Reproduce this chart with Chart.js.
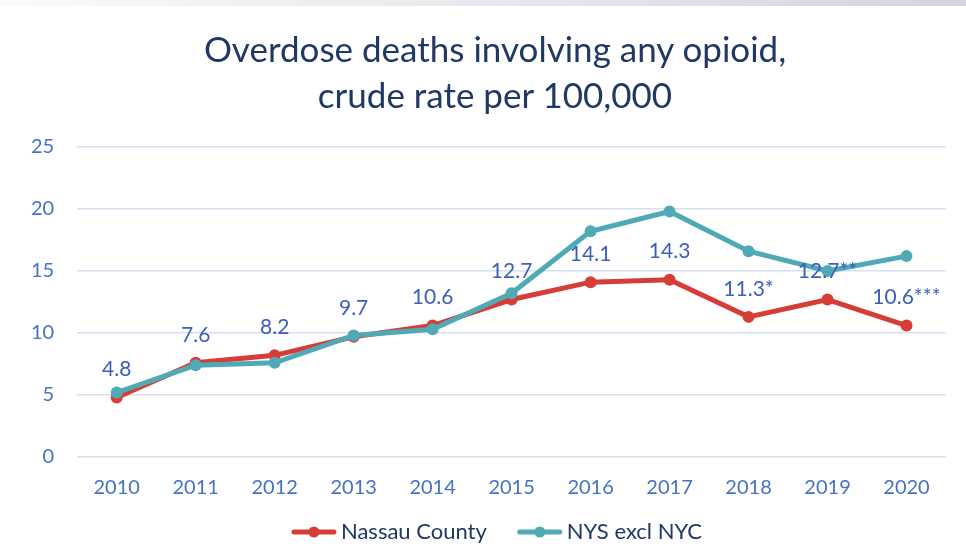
<!DOCTYPE html>
<html>
<head>
<meta charset="utf-8">
<script src="https://cdn.jsdelivr.net/npm/chart.js@4.4.0/dist/chart.umd.min.js"></script>
<style>
  html, body { margin: 0; padding: 0; background: #fff; }
  #wrap { position: relative; width: 966px; height: 546px; overflow: hidden; }
  #topbar { position: absolute; left: 0; top: 0; width: 966px; height: 6px;
    background: linear-gradient(to right, #fbfbfb, #d4d4e0); }
  #title { position: absolute; left: 12px; top: 25px; width: 966px; text-align: center;
    font-family: Lato, sans-serif; font-size: 35px; line-height: 46px; color: #203864; }
  #graph { position: absolute; left: 0; top: 0; }
</style>
</head>
<body>
<div id="wrap">
  <div id="topbar"></div>
  <canvas id="graph" width="966" height="546"></canvas>
  <div id="title">Overdose deaths involving any opioid,<br>crude rate per 100,000</div>
</div>
<script>
var years = ['2010', '2011', '2012', '2013', '2014', '2015', '2016', '2017', '2018', '2019', '2020'];
var nassau = [4.8, 7.6, 8.2, 9.7, 10.6, 12.7, 14.1, 14.3, 11.3, 12.7, 10.6];
var nassauLabels = ['4.8', '7.6', '8.2', '9.7', '10.6', '12.7', '14.1', '14.3', '11.3*', '12.7**', '10.6***'];
var nys = [5.2, 7.4, 7.6, 9.8, 10.3, 13.2, 18.2, 19.8, 16.6, 15.0, 16.2];
var seriesNames = ['Nassau County', 'NYS excl NYC'];

var red = '#d63d37';
var teal = '#4faab5';

// value labels above the Nassau points
var valueLabels = {
  id: 'valueLabels',
  afterDatasetsDraw: function(chart) {
    var ctx = chart.ctx;
    var meta = chart.getDatasetMeta(0);
    ctx.save();
    ctx.font = '21px Lato';
    ctx.fillStyle = '#3c5fb9';
    ctx.textAlign = 'center';
    ctx.textBaseline = 'middle';
    meta.data.forEach(function(pt, i) {
      ctx.fillText(nassauLabels[i], pt.x, pt.y - 28);
    });
    ctx.restore();
  }
};

// legend: line with dot, then name
var lineLegend = {
  id: 'lineLegend',
  afterDraw: function(chart) {
    var ctx = chart.ctx;
    ctx.save();
    ctx.font = '22px Lato';
    var items = chart.data.datasets.map(function(ds) {
      return { ds: ds, w: 44 + 5 + ctx.measureText(ds.label).width };
    });
    var gap = 31;
    var total = items.reduce(function(s, it) { return s + it.w; }, 0) + gap * (items.length - 1);
    var x = 497 - total / 2;
    var y = 532;
    items.forEach(function(it) {
      ctx.strokeStyle = it.ds.borderColor;
      ctx.lineWidth = 5;
      ctx.lineCap = 'round';
      ctx.beginPath();
      ctx.moveTo(x + 2, y);
      ctx.lineTo(x + 42, y);
      ctx.stroke();
      ctx.fillStyle = it.ds.borderColor;
      ctx.beginPath();
      ctx.arc(x + 22, y, 5.5, 0, Math.PI * 2);
      ctx.fill();
      ctx.fillStyle = '#203864';
      ctx.textAlign = 'left';
      ctx.textBaseline = 'middle';
      ctx.fillText(it.ds.label, x + 49, y);
      x += it.w + gap;
    });
    ctx.restore();
  }
};

var ctx = document.getElementById('graph');
var myChart = new Chart(ctx, {
  type: 'line',
  data: {
    labels: years,
    datasets: [{
      label: seriesNames[0],
      data: nassau,
      borderColor: red,
      backgroundColor: red,
      borderWidth: 5,
      pointRadius: 6,
      pointBorderWidth: 0,
      tension: 0,
      order: 1
    }, {
      label: seriesNames[1],
      data: nys,
      borderColor: teal,
      backgroundColor: teal,
      borderWidth: 5,
      pointRadius: 6,
      pointBorderWidth: 0,
      tension: 0,
      order: 0
    }]
  },
  options: {
    responsive: false,
    animation: false,
    layout: { padding: { left: 8, right: 20, top: 147, bottom: 27 } },
    plugins: {
      legend: { display: false },
      tooltip: { enabled: false }
    },
    scales: {
      x: {
        offset: true,
        grid: { display: false, drawTicks: false },
        border: { display: false },
        ticks: { color: '#4472c4', font: { family: 'Lato', size: 20 }, padding: 19, maxRotation: 0 }
      },
      y: {
        min: 0,
        max: 25,
        grid: { color: '#d6dff2', lineWidth: 1.5, drawTicks: false },
        border: { display: false },
        ticks: { stepSize: 5, color: '#4472c4', font: { family: 'Lato', size: 20 }, padding: 23 }
      }
    }
  },
  plugins: [valueLabels, lineLegend]
});
</script>
</body>
</html>
